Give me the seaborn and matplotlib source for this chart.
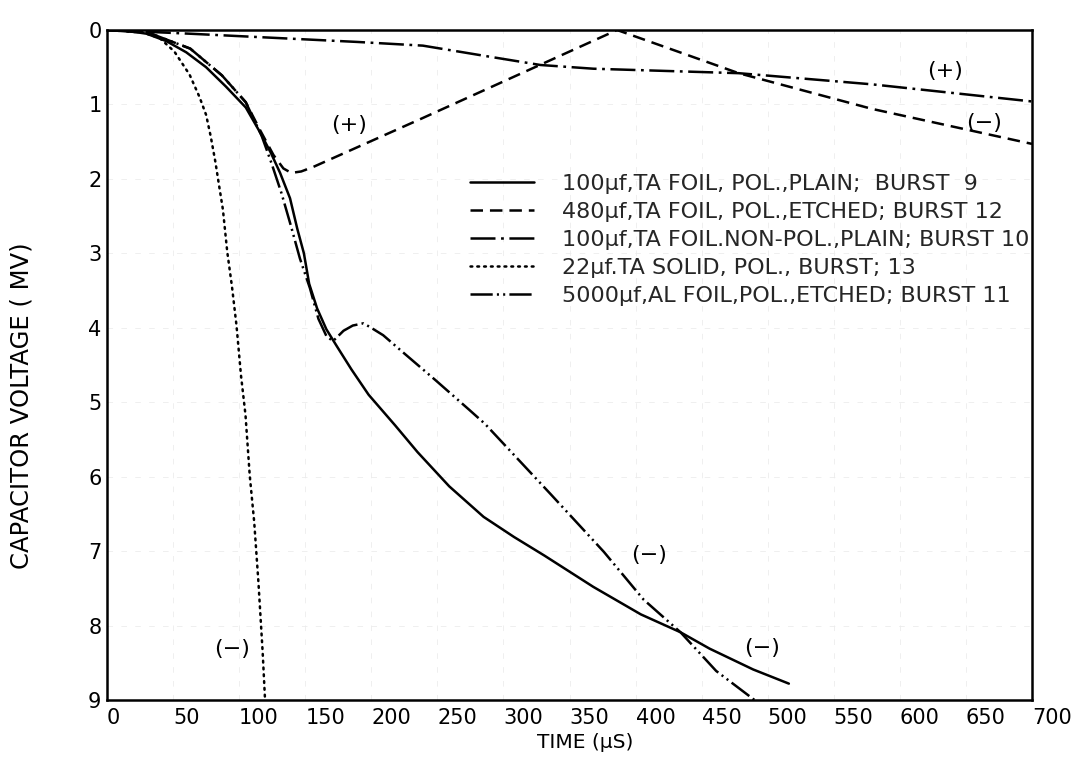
import matplotlib
matplotlib.use("Agg")
import matplotlib.pyplot as plt
import pandas as pd
import seaborn as sns

# Capacitor voltage (MV) vs time (microseconds) for five capacitor bursts
t_burst9 = [0, 15, 30, 45, 60, 75, 90, 105, 116, 124, 131, 138.5, 144, 149, 153, 159, 166, 174,
            185, 198, 218, 235, 259, 285, 308, 331, 368, 404, 434, 456, 489, 516]
v_burst9 = [0.0, 0.01, 0.05, 0.15, 0.3, 0.5, 0.76, 1.04, 1.38, 1.65, 1.92, 2.26, 2.67, 3.0, 3.41,
            3.74, 4.02, 4.25, 4.56, 4.9, 5.31, 5.67, 6.13, 6.54, 6.81, 7.06, 7.48, 7.85, 8.09,
            8.31, 8.59, 8.78]

t_burst12 = [0, 32, 63, 87, 105, 116, 126, 133.5, 139.5, 147, 156, 238, 386, 478, 579, 700]
v_burst12 = [0.0, 0.04, 0.25, 0.61, 0.97, 1.35, 1.68, 1.86, 1.92, 1.9, 1.84, 1.19, 0.0, 0.58,
             1.06, 1.53]

t_burst10 = [0, 63, 189, 239, 290, 328, 368, 478, 579, 700]
v_burst10 = [0.0, 0.05, 0.16, 0.21, 0.36, 0.47, 0.52, 0.58, 0.73, 0.96]

t_burst13 = [0, 25, 40, 51, 62.5, 70, 75, 78.5, 82, 85, 87.7, 91, 94.6, 98, 101.4, 104.8, 108,
             111.4, 114.6, 117.8, 119.6]
v_burst13 = [0.0, 0.02, 0.11, 0.29, 0.6, 0.9, 1.14, 1.43, 1.77, 2.11, 2.41, 2.98, 3.45, 3.97,
             4.64, 5.17, 5.98, 6.61, 7.42, 8.36, 9.0]

t_burst11 = [0, 32, 63, 87, 105, 117, 124.5, 132, 139, 146, 153.6, 160, 166, 171, 179, 186,
             194, 199, 209, 224, 249, 274, 286, 336, 376, 406, 434, 461, 490]
v_burst11 = [0.0, 0.04, 0.25, 0.61, 0.97, 1.42, 1.79, 2.19, 2.62, 3.07, 3.47, 3.88, 4.11, 4.18,
             4.04, 3.97, 3.94, 3.99, 4.1, 4.33, 4.71, 5.1, 5.29, 6.24, 7.01, 7.65, 8.09, 8.61,
             9.0]

labels = [
    "100µf,TA FOIL, POL.,PLAIN;  BURST  9",
    "480µf,TA FOIL, POL.,ETCHED; BURST 12",
    "100µf,TA FOIL.NON-POL.,PLAIN; BURST 10",
    "22µf.TA SOLID, POL., BURST; 13",
    "5000µf,AL FOIL,POL.,ETCHED; BURST 11",
]

x_ticks = list(range(0, 701, 50))
y_ticks = list(range(0, 10))

# polarity annotations: (text, time, voltage)
notes_text = ["(+)", "(+)", "(−)", "(−)", "(−)", "(−)"]
notes_t = [183, 634, 664, 410, 496, 95]
notes_v = [1.28, 0.55, 1.25, 7.05, 8.3, 8.32]

sns.set_theme(style="white")
plt.rcParams["font.family"] = ["DejaVu Sans"]
plt.rcParams["lines.scale_dashes"] = False

fig = plt.figure(figsize=(10.85, 7.62), dpi=100)
ax = fig.add_axes([107 / 1085, 1 - 700 / 762, 925 / 1085, 670 / 762])

styles = [
    dict(linestyle="-"),
    dict(linestyle=(0, (9, 5))),
    dict(linestyle=(0, (18, 4, 2, 4))),
    dict(linestyle=(0, (1.3, 3.6)), dash_capstyle="round"),
    dict(linestyle=(0, (16, 3, 1.5, 3, 1.5, 3))),
]
series = [
    (t_burst9, v_burst9),
    (t_burst12, v_burst12),
    (t_burst10, v_burst10),
    (t_burst13, v_burst13),
    (t_burst11, v_burst11),
]

for (t, v), lab, st in zip(series, labels, styles):
    df = pd.DataFrame({"time": t, "voltage": v})
    sns.lineplot(data=df, x="time", y="voltage", ax=ax, color="black", lw=1.8,
                 sort=False, estimator=None, label=lab, **st)

ax.set_xlim(0, 700)
ax.set_ylim(9, 0)
ax.set_xticks(x_ticks)
ax.set_xticklabels([str(x) for x in x_ticks], ha="left")
ax.set_yticks(y_ticks)
ax.set_yticklabels([str(y) for y in y_ticks])
ax.tick_params(axis="both", length=0, labelsize=15, colors="black")
ax.tick_params(axis="x", pad=6)
ax.tick_params(axis="y", pad=4)

ax.grid(True, color="#ececec", lw=0.6, linestyle=(0, (4, 6)))
for sp in ax.spines.values():
    sp.set_color("black")
    sp.set_linewidth(1.8)

ax.set_xlabel("TIME (µS)", fontsize=14.5, color="black")
ax.xaxis.set_label_coords(0.517, -0.05)
ax.set_ylabel("CAPACITOR VOLTAGE ( MV)", fontsize=17.5, color="black")
ax.yaxis.set_label_coords(-0.092, 0.439)
ax.yaxis.label.set_va("center")

for txt, t, v in zip(notes_text, notes_t, notes_v):
    ax.text(t, v, txt, fontsize=16, ha="center", va="center", color="black")

ax.legend(loc="upper left", bbox_to_anchor=(470 / 1085, 1 - 174 / 762),
          bbox_transform=fig.transFigure, frameon=False, fontsize=16,
          borderpad=0, borderaxespad=0, handlelength=2.9, handletextpad=1.25,
          labelspacing=0.36)

fig.savefig("out.png", dpi=100, facecolor="white")
